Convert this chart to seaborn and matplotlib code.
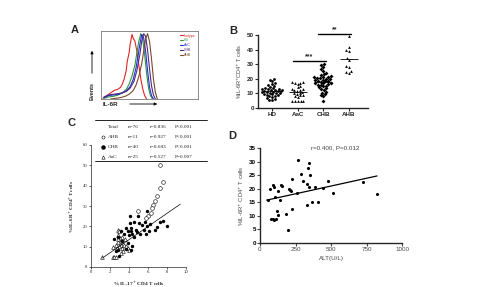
import numpy as np
import pandas as pd
import seaborn as sns
import matplotlib.pyplot as plt

sns.set_style("ticks")
plt.rcParams['font.family'] = ['Liberation Sans', 'DejaVu Sans']

# ---------------- data ----------------
# A: IL-6R histograms (channel %, events %)
iso_x = [2, 5, 8, 11, 14, 17, 20, 22, 24, 26, 27, 29, 30, 31, 32, 33, 35, 37, 39, 41, 43, 45, 47]
iso_y = [1, 4, 7, 10, 13, 14, 17, 22, 30, 42, 55, 68, 80, 88, 95, 90, 85, 70, 50, 30, 15, 5, 0]
hd_hx = [3, 8, 13, 18, 22, 26, 29, 32, 35, 37, 39, 41, 43, 45, 47, 49, 51, 53]
hd_hy = [1, 3, 4, 6, 9, 14, 22, 34, 50, 68, 85, 96, 88, 65, 38, 16, 5, 0]
aac_hx = [3, 8, 13, 18, 22, 26, 30, 33, 36, 38, 40, 42, 44, 46, 48, 50, 52, 54]
aac_hy = [2, 5, 6, 7, 9, 12, 18, 28, 45, 62, 80, 95, 90, 70, 42, 18, 5, 0]
chb_hx = [3, 8, 13, 18, 22, 26, 30, 34, 37, 40, 42, 44, 46, 48, 50, 52, 54, 56]
chb_hy = [3, 6, 7, 8, 9, 11, 16, 26, 42, 65, 85, 96, 92, 72, 45, 20, 6, 0]
ahb_hx = [10, 15, 20, 25, 29, 33, 36, 39, 42, 44, 46, 48, 50, 52, 54, 56, 58]
ahb_hy = [0, 1, 2, 4, 7, 12, 20, 33, 52, 70, 88, 96, 85, 60, 30, 10, 0]
hist_names = ["Isotype", "HD", "AaC", "CHB", "AHB"]
hist_colors = ["#e02424", "#2f9a3a", "#2b2bd0", "#4b2a86", "#7a4a2a"]

# B: %IL-6R+ CD4+ T cells by group
groups = ["HD", "AaC", "CHB", "AHB"]
hd_b = [19.5, 19.8, 18.6, 17.3, 16.4, 15.9, 15.1, 14.4, 14.0, 13.5, 13.2, 12.7, 12.4, 12.1,
        11.9, 11.6, 11.2, 11.0, 10.7, 10.4, 10.1, 9.8, 9.4, 9.1, 8.7, 8.3, 7.9, 7.4, 6.9,
        6.4, 5.8, 5.4, 13.0, 11.4, 10.0, 12.2]
aac_b = [17.8, 17.5, 17.2, 16.4, 15.2, 14.1, 13.3, 12.6, 12.0, 11.8, 11.2, 10.6, 10.0, 9.6,
         9.2, 8.7, 8.1, 7.4, 5.0, 5.0, 5.0, 4.9, 4.9, 16.8, 13.0]
chb_b = [30.2, 29.5, 28.0, 26.5, 25.4, 24.3, 23.5, 22.8, 22.0, 21.5, 21.0, 20.6, 20.2, 19.8,
         19.4, 19.0, 18.6, 18.2, 17.8, 17.4, 17.0, 16.5, 16.0, 15.4, 14.8, 14.2, 13.5, 12.8,
         12.0, 11.2, 10.4, 9.6, 8.8, 8.0, 5.0, 18.8, 20.4, 21.2, 16.8, 15.8]
ahb_b = [49.3, 41.9, 40.0, 38.9, 34.4, 32.8, 28.7, 27.8, 25.3, 24.9, 24.2]
sig = [("AaC", "CHB", "***", 32.4), ("CHB", "AHB", "**", 51.0)]

# C: IL-17+ vs IL-6R+ CD4+ T cells
ahb_cx = [7.3, 7.55, 7.25, 6.9, 6.7, 6.55, 6.45, 6.27, 6.0, 5.75, 4.9]
ahb_cy = [50.2, 42.0, 39.0, 34.7, 32.5, 30.6, 29.0, 26.8, 25.2, 24.0, 27.6]
chb_cx = [4.1, 4.95, 5.9, 4.1, 4.5, 5.05, 5.4, 5.65, 5.9, 6.2, 6.7, 6.9, 7.25, 7.6, 8.0,
          5.2, 5.75, 4.25, 3.85, 3.5, 3.15, 2.8, 2.45, 3.3, 3.85, 4.35, 4.2, 3.65, 2.85,
          2.6, 2.95, 4.5, 4.8, 4.35, 4.0, 5.55, 4.7, 3.65, 4.2, 6.1]
chb_cy = [25.2, 25.2, 27.6, 21.6, 22.0, 21.6, 20.8, 22.0, 20.0, 21.0, 18.3, 19.5, 22.0, 22.7,
          20.4, 16.2, 16.2, 19.0, 17.5, 16.2, 17.5, 15.0, 13.9, 12.9, 11.8, 10.1, 8.5, 9.0,
          8.5, 7.7, 5.2, 15.0, 17.2, 16.2, 15.9, 18.1, 18.3, 19.1, 17.8, 17.5]
aac_cx = [1.2, 2.3, 2.45, 2.8, 2.95, 2.85, 3.05, 3.15, 2.85, 3.2, 2.95, 2.7, 3.3, 3.5, 3.65,
          3.85, 4.0, 3.4, 3.15, 2.6, 2.35, 2.8, 3.3, 3.55, 2.6]
aac_cy = [4.7, 4.7, 4.9, 18.3, 17.5, 15.9, 14.2, 12.6, 12.3, 11.0, 10.1, 9.3, 9.3, 11.0, 10.1,
          9.3, 8.5, 7.7, 6.9, 11.0, 9.6, 13.9, 15.0, 13.9, 5.0]
fit_c_x = [1.2, 9.4]
fit_c_y = [4.4, 30.9]
table_rows = [("", "Total", "n=76", "r=0.836", "P<0.001"),
              ("o", "AHB", "n=11", "r=0.927", "P<0.001"),
              ("*", "CHB", "n=40", "r=0.683", "P<0.001"),
              ("^", "AaC", "n=25", "r=0.527", "P=0.007")]

# D: ALT vs IL-6R+ CD4+ T cells
alt = [54, 71, 78, 89, 94, 99, 101, 106, 113, 122, 129, 129, 141, 148, 155, 181, 195, 207,
       212, 216, 224, 228, 259, 271, 289, 306, 329, 329, 341, 346, 348, 353, 365, 388, 405,
       447, 478, 513, 722, 824]
il6r_d = [15.7, 20.0, 9.0, 8.7, 21.2, 20.5, 8.4, 17.0, 8.7, 11.7, 10.2, 19.0, 16.0, 21.5,
          21.0, 10.8, 4.9, 19.9, 19.4, 19.0, 23.6, 12.6, 18.4, 30.6, 25.4, 22.7, 14.1, 21.7,
          27.6, 29.6, 20.5, 25.2, 15.0, 20.5, 15.0, 20.3, 22.7, 18.4, 22.5, 18.1]
fit_d_x = [47, 824]
fit_d_y = [15.8, 24.7]

# ---------------- layout helpers (pixels) ----------------
W, H = 479, 287
def box(x0, y0, x1, y1):
    return [x0 / W, 1 - y1 / H, (x1 - x0) / W, (y1 - y0) / H]
def fp(x, y):
    return (x / W, 1 - y / H)

fig = plt.figure(figsize=(4.79, 2.87), dpi=100)
fig.patch.set_facecolor("white")

def panel_label(s, x, y):
    fig.text(*fp(x, y), s, fontsize=8, fontweight="bold", ha="center", va="center")

# ---------------- A ----------------
axA = fig.add_axes(box(101, 31, 198, 99))
for hx, hy, name, col in zip([iso_x, hd_hx, aac_hx, chb_hx, ahb_hx],
                             [iso_y, hd_hy, aac_hy, chb_hy, ahb_hy], hist_names, hist_colors):
    sns.lineplot(x=hx, y=hy, ax=axA, color=col, lw=0.8, sort=False, label=name)
axA.set_xlim(0, 100)
axA.set_ylim(0, 100)
axA.set_xticks([])
axA.set_yticks([])
for sp in axA.spines.values():
    sp.set_linewidth(0.6)
    sp.set_color("#777777")
    sp.set_visible(True)
leg = axA.legend(loc="upper right", fontsize=2.6, frameon=False, handlelength=0.6,
                 handletextpad=0.3, labelspacing=0.25, borderaxespad=0.3)
for t, c in zip(leg.get_texts(), hist_colors):
    t.set_color(c)
panel_label("A", 75, 30)
fig.text(*fp(92, 91), "Events", rotation=90, fontsize=4, fontweight="bold", ha="center", va="center")
axA.annotate("", xy=fp(92, 48), xytext=fp(92, 76), xycoords="figure fraction",
             arrowprops=dict(arrowstyle="-|>", lw=0.6, color="black", mutation_scale=4))
fig.text(*fp(110, 105), "IL-6R", fontsize=4.5, fontweight="bold", ha="center", va="center")
axA.annotate("", xy=fp(160, 104), xytext=fp(127, 104), xycoords="figure fraction",
             arrowprops=dict(arrowstyle="-|>", lw=0.6, color="black", mutation_scale=4))

# ---------------- B ----------------
axB = fig.add_axes(box(258, 35, 368, 108))
markers_b = {"HD": "o", "AaC": "^", "CHB": "D", "AHB": "^"}
for g, vals in zip(groups, [hd_b, aac_b, chb_b, ahb_b]):
    sns.swarmplot(x=[g] * len(vals), y=vals, order=groups, ax=axB, color="black",
                  marker=markers_b[g], size=2.0, linewidth=0)
    i = groups.index(g)
    axB.hlines(np.mean(vals), i - 0.35, i + 0.35, color="black", lw=0.6)
for a, b, stars, h in sig:
    i, j = groups.index(a), groups.index(b)
    axB.plot([i - 0.2, j + 0.1], [h, h], color="black", lw=1.0, clip_on=False)
    axB.text((i + j) / 2 - 0.05, h + 0.5, stars, ha="center", va="bottom", fontsize=5,
             fontweight="bold")
axB.set_ylim(0, 50)
axB.set_xlim(-0.55, 3.75)
axB.set_yticks([0, 10, 20, 30, 40, 50])
axB.tick_params(labelsize=4.5, width=0.8, length=2, pad=1)
for t in axB.get_xticklabels() + axB.get_yticklabels():
    t.set_fontweight("bold")
axB.set_xlabel("")
axB.set_ylabel("%IL-6R$^{+}$CD4$^{+}$ T cells", fontsize=4, labelpad=2, color="#444444")
for sp in ["top", "right"]:
    axB.spines[sp].set_visible(False)
for sp in ["left", "bottom"]:
    axB.spines[sp].set_linewidth(1.0)
panel_label("B", 233, 31)

# ---------------- C ----------------
serif = ['Liberation Serif', 'DejaVu Serif']
axC = fig.add_axes(box(91, 145, 186, 267))
sns.scatterplot(x=aac_cx, y=aac_cy, ax=axC, marker="^", s=7, facecolor="white",
                edgecolor="black", linewidth=0.4)
sns.scatterplot(x=chb_cx, y=chb_cy, ax=axC, marker="o", s=6, color="black", linewidth=0)
sns.scatterplot(x=ahb_cx, y=ahb_cy, ax=axC, marker="o", s=7, facecolor="white",
                edgecolor="black", linewidth=0.4)
sns.lineplot(x=fit_c_x, y=fit_c_y, ax=axC, color="black", lw=0.5)
axC.set_xlim(0, 10)
axC.set_ylim(0, 60)
axC.set_xticks([0, 2, 4, 6, 8, 10])
axC.set_yticks([0, 10, 20, 30, 40, 50, 60])
axC.tick_params(labelsize=3.4, width=0.5, length=1.5, pad=1)
for t in axC.get_xticklabels() + axC.get_yticklabels():
    t.set_family(serif)
for sp in ["top", "right"]:
    axC.spines[sp].set_visible(False)
for sp in ["left", "bottom"]:
    axC.spines[sp].set_linewidth(0.5)
axC.set_xlabel("% IL-17$^{+}$ CD4 T cells", fontsize=3.8, family=serif, fontweight="bold",
               labelpad=3)
axC.set_ylabel("%IL-6R$^{+}$ CD4$^{+}$T cells", fontsize=3.8, family=serif, fontweight="bold",
               labelpad=5)
panel_label("C", 72, 123)
fig.add_artist(plt.Line2D([95 / W, 207 / W], [fp(0, 120)[1]] * 2, color="black", lw=0.6))
fig.add_artist(plt.Line2D([95 / W, 207 / W], [fp(0, 161)[1]] * 2, color="black", lw=0.6))
row_y = [127, 137, 147, 157]
for (sym, name, n, r, p), yy in zip(table_rows, row_y):
    if sym == "o":
        fig.add_artist(plt.Line2D([fp(103, yy)[0]], [fp(103, yy)[1]], marker="o", ms=2.2,
                                  mfc="white", mec="black", mew=0.4))
    elif sym == "*":
        fig.add_artist(plt.Line2D([fp(103, yy)[0]], [fp(103, yy)[1]], marker="o", ms=2.2,
                                  mfc="black", mec="black"))
    elif sym == "^":
        fig.add_artist(plt.Line2D([fp(103, yy)[0]], [fp(103, yy)[1]], marker="^", ms=2.4,
                                  mfc="white", mec="black", mew=0.4))
    for txt, xx in zip([name, n, r, p], [108, 128, 150, 175]):
        fig.text(*fp(xx, yy), txt, fontsize=3.8, family=serif, ha="left", va="center")

# ---------------- D ----------------
axD = fig.add_axes(box(260, 148, 402, 243))
sns.scatterplot(x=alt, y=il6r_d, ax=axD, color="black", s=5, linewidth=0)
sns.lineplot(x=fit_d_x, y=fit_d_y, ax=axD, color="black", lw=0.9)
axD.set_xlim(0, 1000)
axD.set_ylim(0, 35)
axD.set_xticks([0, 250, 500, 750, 1000])
axD.set_yticks([0, 5, 10, 15, 20, 25, 30, 35])
axD.tick_params(labelsize=4.5, width=0.8, length=2, pad=1, colors="#444444")
for t in axD.get_yticklabels():
    t.set_fontweight("bold")
    t.set_color("black")
for sp in ["top", "right"]:
    axD.spines[sp].set_visible(False)
for sp in ["left", "bottom"]:
    axD.spines[sp].set_linewidth(1.0)
axD.set_xlabel("ALT(U/L)", fontsize=4.5, color="#444444", labelpad=3)
axD.set_ylabel("%IL-6R$^{+}$ CD4$^{+}$ T cells", fontsize=4.2, color="#444444", labelpad=2)
axD.text(0.53, 1.0, "r=0.400, P=0.012", transform=axD.transAxes, ha="center", va="center",
         fontsize=4.5, color="#444444")
panel_label("D", 232, 136)

fig.savefig("out.png", dpi=100)
